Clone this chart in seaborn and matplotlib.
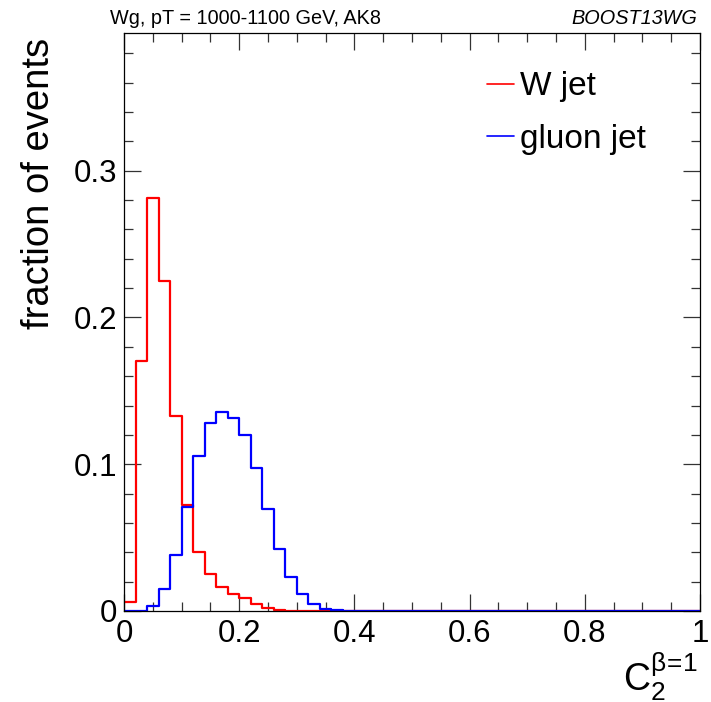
import numpy as np
import pandas as pd
import matplotlib
matplotlib.use("Agg")
import matplotlib.pyplot as plt
import seaborn as sns
from matplotlib.ticker import MultipleLocator

# ---- data (fraction of events per bin, 50 bins of width 0.02 on [0, 1]) ----
bin_edges = [round(i * 0.02, 2) for i in range(51)]
w_jet = [0.0063, 0.1706, 0.2815, 0.2247, 0.1327, 0.0723, 0.0404, 0.0252, 0.0166, 0.0114,
         0.0086, 0.0048, 0.0018, 0.0007, 0.0003] + [0.0] * 35
gluon_jet = [0.0, 0.0, 0.0036, 0.0150, 0.0382, 0.0711, 0.1059, 0.1280, 0.1354, 0.1318,
             0.1200, 0.0977, 0.0695, 0.0423, 0.0234, 0.0114, 0.0045, 0.0014, 0.0005] + [0.0] * 31
series_labels = ["W jet", "gluon jet"]
x_ticks = [0, 0.2, 0.4, 0.6, 0.8, 1]
x_ticklabels = ["0", "0.2", "0.4", "0.6", "0.8", "1"]
y_ticks = [0, 0.1, 0.2, 0.3]
y_ticklabels = ["0", "0.1", "0.2", "0.3"]

edges = np.array(bin_edges)
centers = 0.5 * (edges[:-1] + edges[1:])
df = pd.DataFrame({
    "x": np.concatenate([centers, centers]),
    "w": np.concatenate([w_jet, gluon_jet]),
    "sample": [series_labels[0]] * 50 + [series_labels[1]] * 50,
})

sns.set_style("ticks")
plt.rcParams["font.family"] = ["Liberation Sans", "DejaVu Sans"]
plt.rcParams["mathtext.fontset"] = "custom"
plt.rcParams["mathtext.rm"] = "Liberation Sans"
plt.rcParams["mathtext.it"] = "Liberation Sans"
plt.rcParams["text.color"] = "black"
plt.rcParams["axes.labelcolor"] = "black"
plt.rcParams["xtick.color"] = "black"
plt.rcParams["ytick.color"] = "black"

fig = plt.figure(figsize=(7.11, 7.02), dpi=100)
ax = fig.add_axes([124 / 711, 1 - 611 / 702, 576 / 711, (611 - 32.7) / 702])

colors = {"W jet": "#ff0000", "gluon jet": "#0000ff"}
for lab in series_labels:
    sub = df[df["sample"] == lab]
    sns.histplot(data=sub, x="x", weights="w", bins=bin_edges, element="step",
                 fill=False, color=colors[lab], linewidth=1.6, ax=ax, label=lab)

ax.set_xlim(0, 1)
ax.set_ylim(0, 0.394)
ax.set_xlabel("")

ax.set_xticks(x_ticks)
ax.set_xticklabels(x_ticklabels)
ax.set_yticks(y_ticks)
ax.set_yticklabels(y_ticklabels)
ax.xaxis.set_minor_locator(MultipleLocator(0.05))
ax.yaxis.set_minor_locator(MultipleLocator(0.02))
ax.tick_params(which="both", direction="in", top=True, right=True, color="#333333",
               width=0.9, labelcolor="black")
ax.tick_params(which="major", length=12)
ax.tick_params(which="minor", length=6.5)
ax.tick_params(axis="x", which="major", labelsize=22.5, pad=6)
ax.tick_params(axis="y", which="major", labelsize=22.5, pad=5)
for s in ax.spines.values():
    s.set_linewidth(0.9)
    s.set_color("black")

ax.set_ylabel("fraction of events", fontsize=27.5, labelpad=12, color="black")
ax.yaxis.label.set_position((0, (611 - 183) / (611 - 32.7)))

fig.text(698 / 711, 1 - 677 / 702, r"$\mathrm{C}_{2}^{\mathrm{\beta}\!=\!1}$", fontsize=27,
         ha="right", va="center", color="black")

fig.text(110 / 711, 1 - 18 / 702, "Wg, pT = 1000-1100 GeV, AK8", fontsize=14.3,
         ha="left", va="center", color="black")
fig.text(697 / 711, 1 - 18 / 702, "BOOST13WG", fontsize=14.3, style="italic",
         ha="right", va="center", color="black")

leg = ax.legend(loc="upper left", bbox_to_anchor=(0.607, 0.956), frameon=False,
                fontsize=24, handlelength=0.8, handletextpad=0.2, labelspacing=0.65,
                borderaxespad=0)
for h in leg.legend_handles:
    h.set_linewidth(1.2)
for t in leg.get_texts():
    t.set_color("black")

fig.savefig("out.png", dpi=100)
